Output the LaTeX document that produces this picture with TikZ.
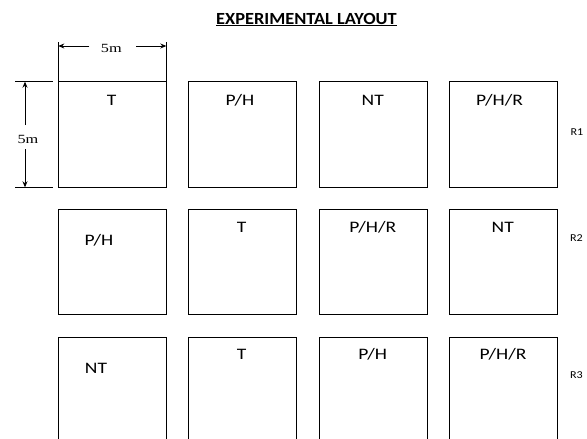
\documentclass[tikz,border=0pt]{standalone}
\usepackage{fontspec}
\setmainfont{Carlito}
\newfontfamily\dimfont[FakeStretch=1.3]{Liberation Serif}
\newfontfamily\labfont[FakeStretch=1.22]{Carlito}
\newfontfamily\repfont[FakeStretch=1.15]{Carlito}
\newfontfamily\titlefont[FakeStretch=1.08]{Carlito}
\usetikzlibrary{arrows.meta}
\tikzset{
  plot/.style={draw, line width=0.9pt, minimum width=108pt, minimum height=106pt, inner sep=0pt, outer sep=0pt},
  lab/.style={font=\labfont\fontsize{16}{18}\selectfont, inner sep=0pt},
  rep/.style={font=\repfont\fontsize{10.5}{12}\selectfont, inner sep=0pt},
  dimtxt/.style={font=\dimfont\fontsize{12.5}{14}\selectfont, inner sep=0pt},
  dimline/.style={line width=0.8pt},
  dimarrow/.style={line width=0.8pt, -{Stealth[length=6pt,width=5pt]}},
}
\begin{document}
\begin{tikzpicture}[x=1pt,y=-1pt]
\useasboundingbox (0,0) rectangle (587,439);
\node[font=\titlefont\bfseries\fontsize{17}{19}\selectfont, inner sep=0pt] (title) at (306.5,19.5) {\underline{EXPERIMENTAL LAYOUT}};
% row 1
\node[plot] (b11) at (112.3,134.5) {};
\node[plot] (b12) at (242.5,134.5) {};
\node[plot] (b13) at (373.5,134.5) {};
\node[plot] (b14) at (503.3,134.5) {};
% row 2
\node[plot, minimum height=105pt] (b21) at (112.3,261.7) {};
\node[plot, minimum height=105pt] (b22) at (242.5,261.7) {};
\node[plot, minimum height=105pt] (b23) at (373.5,261.7) {};
\node[plot, minimum height=105pt] (b24) at (503.3,261.7) {};
% row 3
\node[plot] (b31) at (112.3,390.7) {};
\node[plot] (b32) at (242.5,390.7) {};
\node[plot] (b33) at (373.5,390.7) {};
\node[plot] (b34) at (503.3,390.7) {};
% labels
\node[lab] (l11) at (111.7,100) {T};
\node[lab] (l12) at (240,100) {P/H};
\node[lab] (l13) at (372.7,100) {NT};
\node[lab] (l14) at (499.5,100) {P/H/R};
\node[lab] (l21) at (99,240.7) {P/H};
\node[lab] (l22) at (241.7,227.3) {T};
\node[lab] (l23) at (372.7,227.3) {P/H/R};
\node[lab] (l24) at (502.7,227.3) {NT};
\node[lab] (l31) at (96,368) {NT};
\node[lab] (l32) at (241.7,354) {T};
\node[lab] (l33) at (372.7,354) {P/H};
\node[lab] (l34) at (503,354) {P/H/R};
% replicate labels
\node[rep] (r1) at (577,131.7) {R1};
\node[rep] (r2) at (576.5,238) {R2};
\node[rep] (r3) at (576.5,375) {R3};
% horizontal dimension
\coordinate (hl) at (58.3,41.7);
\coordinate (hr) at (166.3,41.7);
\draw[dimline] (b11.north west) -- (hl);
\draw[dimline] (b11.north east) -- (hr);
\node[dimtxt] (hdim) at (111.3,48.5) {5m};
\coordinate (ha1) at (89.3,46);
\coordinate (ha2) at (136,46);
\coordinate (hae1) at (58.3,46);
\coordinate (hae2) at (166.3,46);
\draw[dimarrow] (ha1) -- (hae1);
\draw[dimarrow] (ha2) -- (hae2);
% vertical dimension
\coordinate (vt) at (15,81.7);
\coordinate (vb) at (15,187.3);
\coordinate (vtr) at (53,81.7);
\coordinate (vbr) at (53,187.3);
\draw[dimline] (vt) -- (vtr);
\draw[dimline] (vb) -- (vbr);
\node[dimtxt] (vdim) at (28,139.5) {5m};
\coordinate (va1) at (25,125);
\coordinate (va2) at (25,149);
\coordinate (vae1) at (25,81.7);
\coordinate (vae2) at (25,187.3);
\draw[dimarrow] (va1) -- (vae1);
\draw[dimarrow] (va2) -- (vae2);
\end{tikzpicture}
\end{document}
